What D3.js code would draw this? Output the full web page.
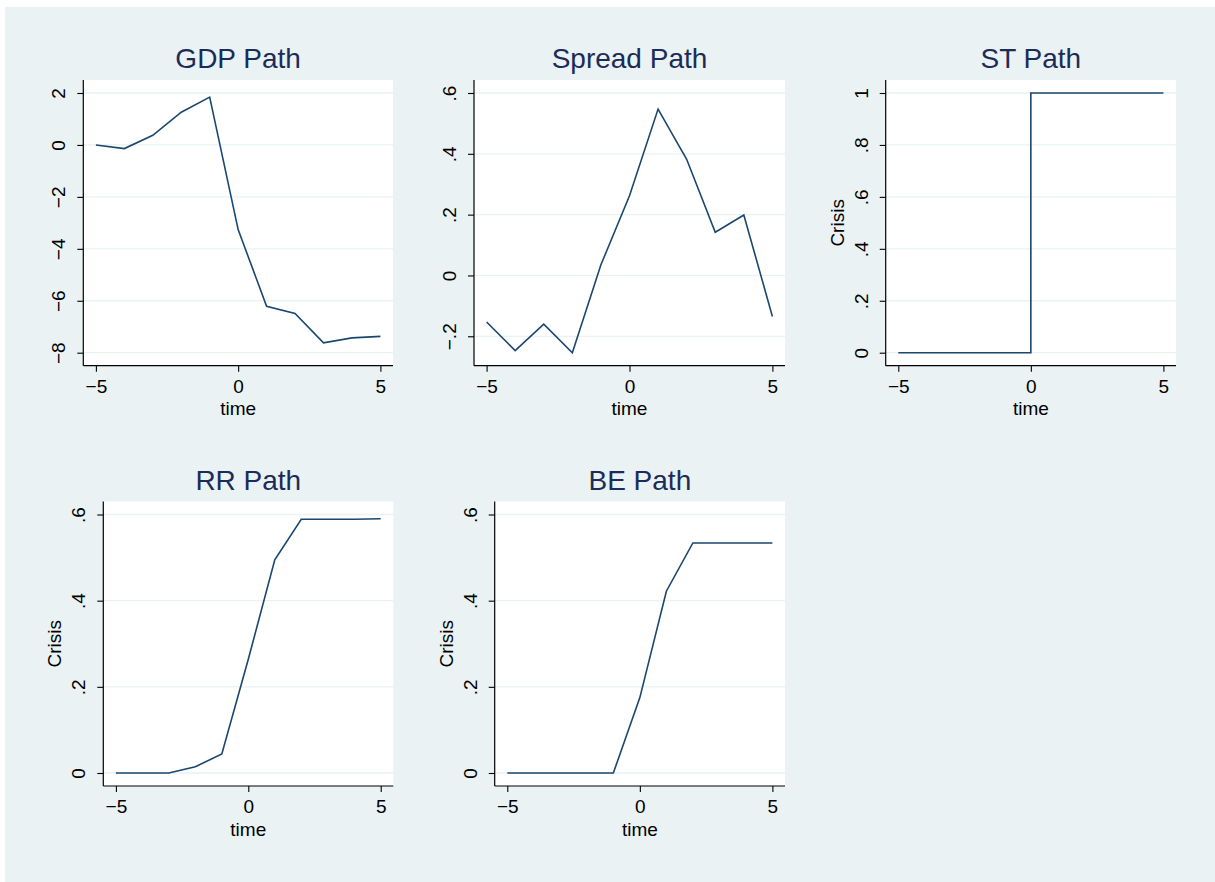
<!DOCTYPE html>
<html>
<head>
<meta charset="utf-8">
<script src="https://cdn.jsdelivr.net/npm/d3@7"></script>
<style>
  html, body { margin: 0; padding: 0; background: #ffffff; }
  svg { display: block; font-family: "Liberation Sans", Arial, Helvetica, sans-serif; }
</style>
</head>
<body>
<svg id="chart" width="1215" height="882"></svg>
<script>
// Event-window paths around a crisis (time 0)
const time = [-5, -4, -3, -2, -1, 0, 1, 2, 3, 4, 5];

const gdpPath    = [0, -0.14, 0.37, 1.26, 1.84, -3.26, -6.21, -6.49, -7.62, -7.43, -7.37];
const spreadPath = [-0.153, -0.247, -0.160, -0.254, 0.035, 0.262, 0.547, 0.382, 0.142, 0.199, -0.135];
const stPath     = [0, 0, 0, 0, 0, 1, 1, 1, 1, 1, 1];
const rrPath     = [0, 0, 0, 0.0146, 0.044, 0.264, 0.495, 0.589, 0.589, 0.589, 0.590];
const bePath     = [0, 0, 0, 0, 0, 0.175, 0.422, 0.534, 0.534, 0.534, 0.534];

const xTicks      = [-5, 0, 5];
const gdpTicks    = [-8, -6, -4, -2, 0, 2];
const spreadTicks = [-0.2, 0, 0.2, 0.4, 0.6];
const stTicks     = [0, 0.2, 0.4, 0.6, 0.8, 1];
const crisisTicks = [0, 0.2, 0.4, 0.6];

const titles = ["GDP Path", "Spread Path", "ST Path", "RR Path", "BE Path"];

// Stata-like number formatting: drop leading zero, use a true minus sign
function fmt(v) {
  if (Math.abs(v) < 1e-9) return "0";
  let s = String(+v.toFixed(4));
  s = s.replace(/^(-?)0\./, "$1.");
  return s.replace("-", "\u2212");
}

const panels = [
  { title: titles[0], values: gdpPath,    yTicks: gdpTicks,    yLabel: null,     left: 83.3,  right: 393,   row: 0, step: false },
  { title: titles[1], values: spreadPath, yTicks: spreadTicks, yLabel: null,     left: 474,   right: 785,   row: 0, step: false },
  { title: titles[2], values: stPath,     yTicks: stTicks,     yLabel: "Crisis", left: 885.7, right: 1176,  row: 0, step: true  },
  { title: titles[3], values: rrPath,     yTicks: crisisTicks, yLabel: "Crisis", left: 103.3, right: 393.3, row: 1, step: false },
  { title: titles[4], values: bePath,     yTicks: crisisTicks, yLabel: "Crisis", left: 494.7, right: 785,   row: 1, step: false }
];

const rows = [ { top: 80, bottom: 365.7 }, { top: 501.5, bottom: 786 } ];
const padX = 12.6, padY = 13;

const bg = "#eaf2f3";
const lineColor = "#1a476f";
const titleColor = "#1c2c58";

const svg = d3.select("#chart");

// outer graph region
svg.append("rect").attr("x", 5).attr("y", 7).attr("width", 1210).attr("height", 875).attr("fill", bg);

panels.forEach(p => {
  const r = rows[p.row];
  const g = svg.append("g");

  const yExt = d3.extent(p.values.concat(p.yTicks));
  const x = d3.scaleLinear().domain([-5, 5]).range([p.left + padX, p.right - padX]);
  const y = d3.scaleLinear().domain(yExt).range([r.bottom - padY, r.top + padY]);

  // plot region
  g.append("rect")
    .attr("x", p.left).attr("y", r.top)
    .attr("width", p.right - p.left).attr("height", r.bottom - r.top)
    .attr("fill", "#ffffff");

  // horizontal grid lines
  g.selectAll("line.grid").data(p.yTicks).enter().append("line")
    .attr("class", "grid")
    .attr("x1", p.left).attr("x2", p.right)
    .attr("y1", d => y(d)).attr("y2", d => y(d))
    .attr("stroke", bg).attr("stroke-width", 1.3);

  // data line
  const line = d3.line()
    .x((d, i) => x(time[i]))
    .y(d => y(d))
    .curve(p.step ? d3.curveStepAfter : d3.curveLinear);
  g.append("path")
    .datum(p.values)
    .attr("d", line)
    .attr("fill", "none")
    .attr("stroke", lineColor)
    .attr("stroke-width", 1.6)
    .attr("stroke-linejoin", "miter");

  // y axis
  const yAxis = d3.axisLeft(y).tickValues(p.yTicks).tickSize(6).tickPadding(0).tickFormat(fmt);
  const ya = g.append("g").attr("transform", `translate(${p.left},0)`).call(yAxis);
  ya.select(".domain").attr("d", `M0,${r.top}V${r.bottom}`).attr("stroke", "#000").attr("stroke-width", 1.2);
  ya.selectAll(".tick line").attr("stroke", "#000").attr("stroke-width", 1.1);
  ya.selectAll(".tick text")
    .attr("x", null).attr("dy", null)
    .attr("transform", "translate(-18,0) rotate(-90)")
    .attr("text-anchor", "middle")
    .attr("font-size", 19)
    .attr("font-family", "Liberation Sans, Arial, sans-serif")
    .attr("fill", "#000");

  // x axis
  const xAxis = d3.axisBottom(x).tickValues(xTicks).tickSize(6).tickPadding(0).tickFormat(fmt);
  const xa = g.append("g").attr("transform", `translate(0,${r.bottom})`).call(xAxis);
  xa.select(".domain").attr("d", `M${p.left},0H${p.right}`).attr("stroke", "#000").attr("stroke-width", 1.2);
  xa.selectAll(".tick line").attr("stroke", "#000").attr("stroke-width", 1.1);
  xa.selectAll(".tick text")
    .attr("y", 27).attr("dy", null)
    .attr("font-size", 19)
    .attr("font-family", "Liberation Sans, Arial, sans-serif")
    .attr("fill", "#000");

  // x axis title
  g.append("text")
    .attr("x", (p.left + p.right) / 2).attr("y", r.bottom + 49.5)
    .attr("text-anchor", "middle")
    .attr("font-size", 19)
    .attr("fill", "#000")
    .text("time");

  // y axis title
  if (p.yLabel) {
    const cy = (r.top + r.bottom) / 2;
    g.append("text")
      .attr("transform", `translate(${p.left - 42},${cy}) rotate(-90)`)
      .attr("text-anchor", "middle")
      .attr("font-size", 19)
      .attr("fill", "#000")
      .text(p.yLabel);
  }

  // panel title
  g.append("text")
    .attr("x", (p.left + p.right) / 2).attr("y", r.top - 12)
    .attr("text-anchor", "middle")
    .attr("font-size", 28)
    .attr("fill", titleColor)
    .text(p.title);
});
</script>
</body>
</html>
